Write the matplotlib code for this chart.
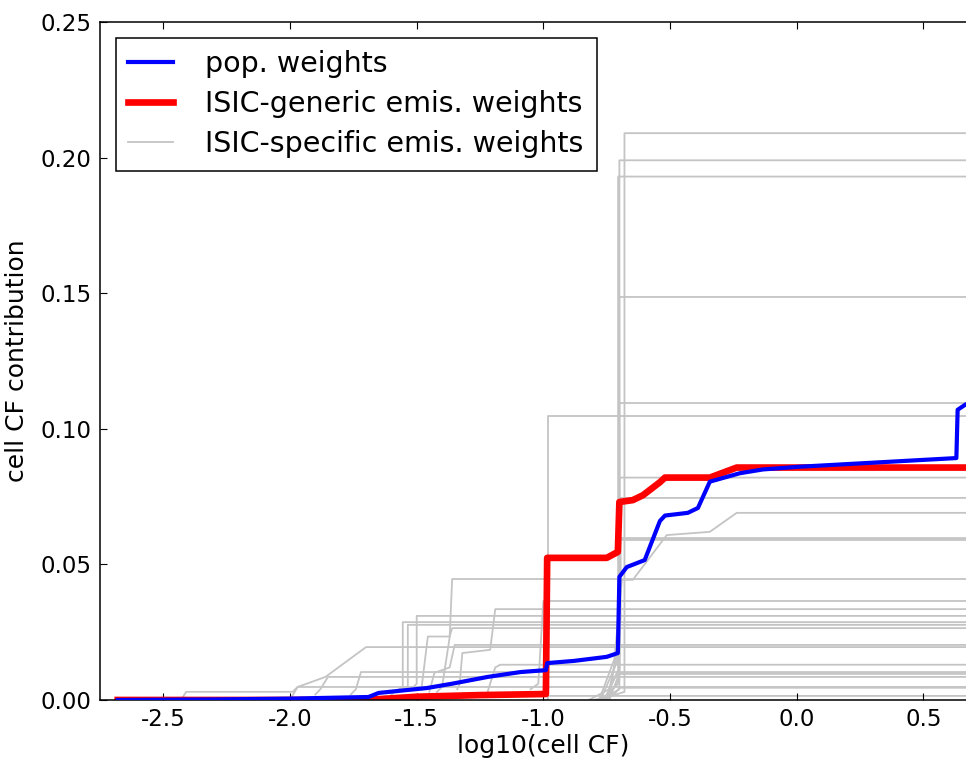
import matplotlib
matplotlib.use('Agg')
import matplotlib.pyplot as plt
import numpy as np

X_END = 0.75

# cumulative contribution, population weights
pop_x = [-2.68, -2.30, -2.00, -1.69, -1.65, -1.46, -1.36, -1.22, -1.09, -0.99,
         -0.985, -0.88, -0.75, -0.706, -0.70, -0.671, -0.60, -0.54, -0.52, -0.43,
         -0.39, -0.343, -0.225, -0.134, 0.01, 0.63, 0.635, 0.667, 0.75]
pop_y = [0.0, 0.0002, 0.0005, 0.0011, 0.0026, 0.0044, 0.0060, 0.0085, 0.0103, 0.0110,
         0.0136, 0.0144, 0.0159, 0.0173, 0.0454, 0.0490, 0.0516, 0.0660, 0.0680, 0.0690,
         0.0708, 0.0805, 0.0836, 0.0850, 0.0860, 0.0892, 0.1070, 0.1090, 0.1110]

# ISIC-generic emission weights
gen_x = [-2.68, -1.70, -1.50, -1.25, -0.99, -0.985, -0.75, -0.706, -0.70, -0.647,
         -0.607, -0.54, -0.52, -0.343, -0.237, X_END]
gen_y = [0.0, 0.0, 0.0012, 0.0018, 0.0022, 0.0524, 0.0524, 0.0546, 0.0730, 0.0737,
         0.0755, 0.0803, 0.0820, 0.0820, 0.0857, 0.0857]

# ISIC-specific emission weights, one curve per sector
spec_x = [
    [-0.78, -0.68, -0.68],
    [-0.77, -0.70, -0.70],
    [-0.76, -0.705, -0.705],
    [-0.75, -0.70, -0.70],
    [-0.74, -0.70, -0.70],
    [-1.00, -0.98, -0.98],
    [-0.76, -0.70, -0.70],
    [-0.77, -0.70, -0.70],
    [-0.78, -0.72, -0.69, -0.647, -0.513, -0.343, -0.237],
    [-0.75, -0.70, -0.70],
    [-0.74, -0.695, -0.695],
    [-1.42, -1.40, -1.37, -1.36],
    [-1.34, -1.33, -1.32, -1.21, -1.19],
    [-1.60, -1.555, -1.555],
    [-1.58, -1.535, -1.535],
    [-1.52, -1.50, -1.50],
    [-2.00, -1.97, -1.86, -1.70],
    [-2.43, -2.41, -1.99, -1.97],
    [-1.90, -1.88, -1.85],
    [-1.76, -1.74, -1.72],
    [-1.48, -1.456, -1.37, -1.36],
    [-1.45, -1.43, -1.37, -1.35, -1.30],
    [-1.05, -1.02, -1.00],
    [-0.80, -0.72, -0.70],
    [-1.80, -1.60],
    [-0.82, -0.74, -0.71],
    [-1.22, -1.19, -1.17],
]
spec_y = [
    [0.000, 0.003, 0.209],
    [0.000, 0.004, 0.199],
    [0.001, 0.006, 0.193],
    [0.000, 0.008, 0.1486],
    [0.000, 0.010, 0.1095],
    [0.000, 0.000, 0.1047],
    [0.000, 0.012, 0.082],
    [0.001, 0.016, 0.0745],
    [0.000, 0.015, 0.0443, 0.0443, 0.0608, 0.062, 0.069],
    [0.000, 0.020, 0.0597],
    [0.000, 0.030, 0.059],
    [0.003, 0.0048, 0.023, 0.0446],
    [0.004, 0.006, 0.0173, 0.0185, 0.0335],
    [0.002, 0.005, 0.0287],
    [0.003, 0.005, 0.0277],
    [0.004, 0.006, 0.031],
    [0.000, 0.0048, 0.0085, 0.0195],
    [0.000, 0.003, 0.003, 0.0048],
    [0.002, 0.004, 0.0085],
    [0.002, 0.004, 0.0103],
    [0.005, 0.0234, 0.0234, 0.0265],
    [0.003, 0.010, 0.012, 0.0203, 0.0203],
    [0.004, 0.006, 0.0365],
    [0.000, 0.002, 0.0045],
    [0.000, 0.0015],
    [0.000, 0.004, 0.0096],
    [0.003, 0.012, 0.0130],
]

plt.rcParams['font.family'] = 'DejaVu Sans'

fig = plt.figure(figsize=(9.66, 7.63), dpi=100)
ax = fig.add_axes([0.1035, 0.0826, 0.918, 0.8886])

for i, (xs, ys) in enumerate(zip(spec_x, spec_y)):
    xs = list(xs) + [X_END]
    ys = list(ys) + [ys[-1]]
    ax.plot(xs, ys, color='#c4c4c4', lw=1.3,
            label='ISIC-specific emis. weights' if i == 0 else None, zorder=1)

ax.plot(gen_x, gen_y, color='#ff0000', lw=4.8,
        label='ISIC-generic emis. weights', zorder=2)
ax.plot(pop_x, pop_y, color='#0000ff', lw=3.0,
        label='pop. weights', zorder=3)

handles, labels = ax.get_legend_handles_labels()
order = [labels.index('pop. weights'), labels.index('ISIC-generic emis. weights'),
         labels.index('ISIC-specific emis. weights')]
leg = ax.legend([handles[k] for k in order], [labels[k] for k in order],
                loc='upper left', fancybox=False, framealpha=1,
                handlelength=1.55, handletextpad=1.15, borderpad=0.45,
                labelspacing=0.42, borderaxespad=0.55, fontsize=20.5)
leg.get_frame().set_edgecolor('black')
leg.get_frame().set_linewidth(1.1)

ax.set_xlim(-2.75, X_END)
ax.set_ylim(0, 0.25)
ax.set_xticks([-2.5, -2.0, -1.5, -1.0, -0.5, 0.0, 0.5])
ax.set_yticks([0.0, 0.05, 0.10, 0.15, 0.20, 0.25])
ax.xaxis.set_major_formatter(matplotlib.ticker.FormatStrFormatter('%.1f'))
ax.yaxis.set_major_formatter(matplotlib.ticker.FormatStrFormatter('%.2f'))
ax.tick_params(direction='in', top=True, right=True, length=5, width=0.8,
               labelsize=16.5, pad=6)
for s in ax.spines.values():
    s.set_linewidth(1.1)

ax.set_xlabel('log10(cell CF)', fontsize=18, labelpad=2)
ax.set_ylabel('cell CF contribution', fontsize=18, labelpad=8)

fig.savefig('out.png', dpi=100)
